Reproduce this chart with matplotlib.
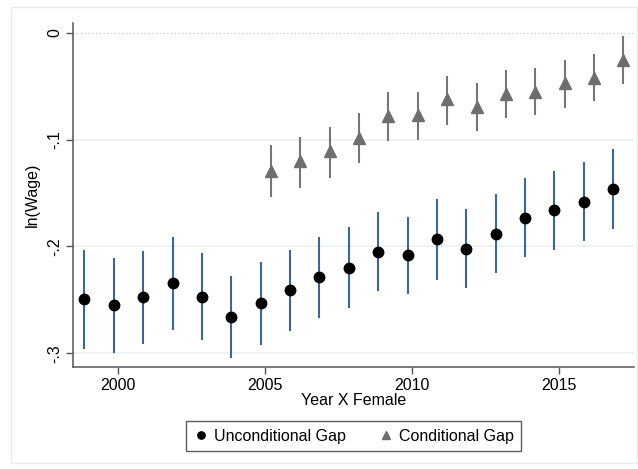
import numpy as np
import matplotlib
matplotlib.use('Agg')
import matplotlib.pyplot as plt
from matplotlib.patches import Rectangle

plt.rcParams['font.family'] = ['Liberation Sans', 'DejaVu Sans']

years = np.arange(1999, 2018)
uncond = [-.249, -.255, -.247, -.234, -.247, -.266, -.253, -.241, -.229, -.220,
          -.205, -.208, -.193, -.202, -.188, -.173, -.166, -.158, -.146]
uncond_lo = [-.296, -.300, -.291, -.278, -.288, -.305, -.292, -.279, -.267, -.258,
             -.242, -.245, -.231, -.239, -.225, -.210, -.203, -.195, -.184]
uncond_hi = [-.203, -.211, -.204, -.191, -.206, -.228, -.215, -.203, -.191, -.182,
             -.168, -.172, -.156, -.165, -.151, -.136, -.129, -.121, -.109]

cond_years = np.arange(2005, 2018)
cond = [-.129, -.120, -.111, -.098, -.078, -.077, -.062, -.069, -.057, -.055,
        -.047, -.042, -.025]
cond_lo = [-.154, -.145, -.136, -.122, -.101, -.100, -.086, -.092, -.080, -.077,
           -.070, -.064, -.048]
cond_hi = [-.105, -.097, -.088, -.075, -.055, -.055, -.040, -.047, -.035, -.033,
           -.025, -.020, -.003]

fig = plt.figure(figsize=(6.38, 4.69), dpi=100)
fig.patches.append(Rectangle((11 / 638, 6 / 469), 626 / 638, 456 / 469,
                             transform=fig.transFigure, fill=False,
                             edgecolor='#e3ecee', lw=1.0))
ax = fig.add_axes([73 / 638, 102 / 469, 561 / 638, 344 / 469])

ux = years - 0.15
cx = cond_years + 0.2
ax.vlines(ux, uncond_lo, uncond_hi, color='#3d6790', lw=1.5, zorder=2)
ax.plot(ux, uncond, 'o', color='black', ms=7.5, zorder=3, label='Unconditional Gap')
ax.vlines(cx, cond_lo, cond_hi, color='#767676', lw=1.5, zorder=2)
ax.plot(cx, cond, '^', color='#6e6e6e', ms=8, zorder=3, label='Conditional Gap')

ax.axhline(0, color='#b8cccf', lw=0.9, ls=(0, (1, 2)), zorder=1)
for g in [-.1, -.2, -.3]:
    ax.axhline(g, color='#eaf1f2', lw=1.2, zorder=1)

ax.set_xlim(1998.46, 2017.56)
ax.set_ylim(-0.313, 0.0094)
ax.set_xticks([2000, 2005, 2010, 2015])
ax.set_yticks([0, -.1, -.2, -.3])
ax.set_yticklabels(['0', '-.1', '-.2', '-.3'], rotation=90, va='center')
ax.tick_params(axis='both', direction='out', length=5, width=1, color='#555555',
               labelsize=11.5, pad=3)

for s in ['top', 'right']:
    ax.spines[s].set_visible(False)
for s in ['left', 'bottom']:
    ax.spines[s].set_color('#555555')
    ax.spines[s].set_linewidth(1.1)

ax.set_xlabel('Year X Female', fontsize=11.5, labelpad=0)
ax.set_ylabel('ln(Wage)', fontsize=11.5, labelpad=5)

leg = ax.legend(loc='upper center', bbox_to_anchor=(0.5, -0.135), ncol=2,
                frameon=True, fancybox=False, fontsize=11.5, handletextpad=0.3,
                columnspacing=2.0, borderpad=0.45, handlelength=1.0,
                markerscale=0.7)
leg.get_frame().set_edgecolor('#333333')
leg.get_frame().set_linewidth(1.0)

fig.savefig('out.png', dpi=100)
